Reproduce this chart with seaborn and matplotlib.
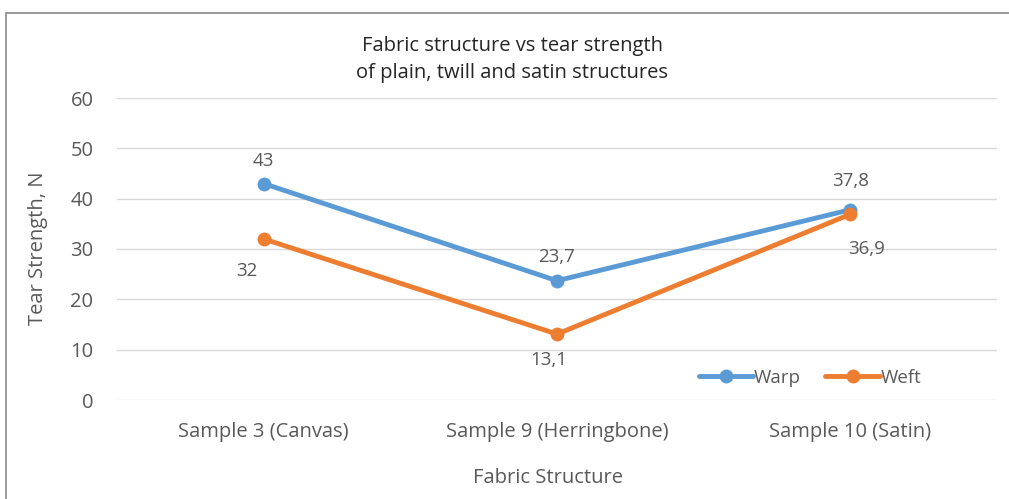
import matplotlib
matplotlib.use("Agg")
import matplotlib.pyplot as plt
import seaborn as sns
import pandas as pd
from matplotlib.patches import Rectangle

categories = ["Sample 3 (Canvas)", "Sample 9 (Herringbone)", "Sample 10 (Satin)"]
warp = [43, 23.7, 37.8]
weft = [32, 13.1, 36.9]
warp_labels = ["43", "23,7", "37,8"]
weft_labels = ["32", "13,1", "36,9"]
y_ticks = [0, 10, 20, 30, 40, 50, 60]

sns.set_theme(style="white")
plt.rcParams['font.family'] = ['Open Sans', 'DejaVu Sans']

TXT = "#595959"
BLUE = "#5B9BD5"
ORANGE = "#ED7D31"

df = pd.DataFrame({
    "cat": categories * 2,
    "x": list(range(len(categories))) * 2,
    "val": warp + weft,
    "series": ["Warp"] * 3 + ["Weft"] * 3,
})

fig = plt.figure(figsize=(10.09, 4.99), dpi=100)
ax = fig.add_axes([117/1009, 1-400/499, 880/1009, 302/499])

sns.lineplot(data=df, x="x", y="val", hue="series", palette=[BLUE, ORANGE],
             marker="o", markersize=10, markeredgewidth=0, linewidth=3.5,
             ax=ax, sort=False)

ax.set_xlim(-0.5, 2.5)
ax.set_ylim(0, 60)
ax.set_yticks(y_ticks)
ax.set_yticklabels([str(v) for v in y_ticks], fontsize=14.5, color=TXT)
ax.set_xticks(range(len(categories)))
ax.set_xticklabels(categories, fontsize=14.5, color=TXT)
ax.tick_params(axis="x", length=0, pad=16)
ax.tick_params(axis="y", length=0, pad=17)
ax.grid(axis="y", color="#D9D9D9", linewidth=1)
ax.set_axisbelow(True)
for s in ax.spines.values():
    s.set_visible(False)
ax.set_xlabel("")
ax.set_ylabel("")

warp_off = [(0, 16), (0, 17), (0, 21)]
weft_off = [(-12, -23), (-6, -19), (12, -25)]
for i in range(3):
    ax.annotate(warp_labels[i], (i, warp[i]), xytext=warp_off[i], textcoords="offset points",
                ha="center", va="center", fontsize=13.5, color=TXT)
    ax.annotate(weft_labels[i], (i, weft[i]), xytext=weft_off[i], textcoords="offset points",
                ha="center", va="center", fontsize=13.5, color=TXT)

leg = ax.legend(loc="center", bbox_to_anchor=((810-117)/880, (400-378)/302),
                ncol=2, frameon=False, fontsize=13.5, handlelength=2.9, columnspacing=1.3,
                handletextpad=0.05, borderaxespad=0)
for t in leg.get_texts():
    t.set_color(TXT)

fig.text(512/1009, 1-46/499, "Fabric structure vs tear strength", ha="center", va="center",
         fontsize=14.5, color="#262626")
fig.text(512/1009, 1-73/499, "of plain, twill and satin structures", ha="center", va="center",
         fontsize=14.5, color="#262626")
fig.text(548/1009, 1-478/499, "Fabric Structure", ha="center", va="center", fontsize=14.5, color=TXT)
fig.text(38/1009, 1-248/499, "Tear Strength, N", ha="center", va="center", rotation=90,
         fontsize=14.5, color=TXT)

fig.patches.append(Rectangle((6/1009, -0.1), 1.2, 0.1 + 1-13/499, transform=fig.transFigure,
                             fill=False, edgecolor="#898989", linewidth=1.2, figure=fig))

fig.savefig("out.png", dpi=100)
